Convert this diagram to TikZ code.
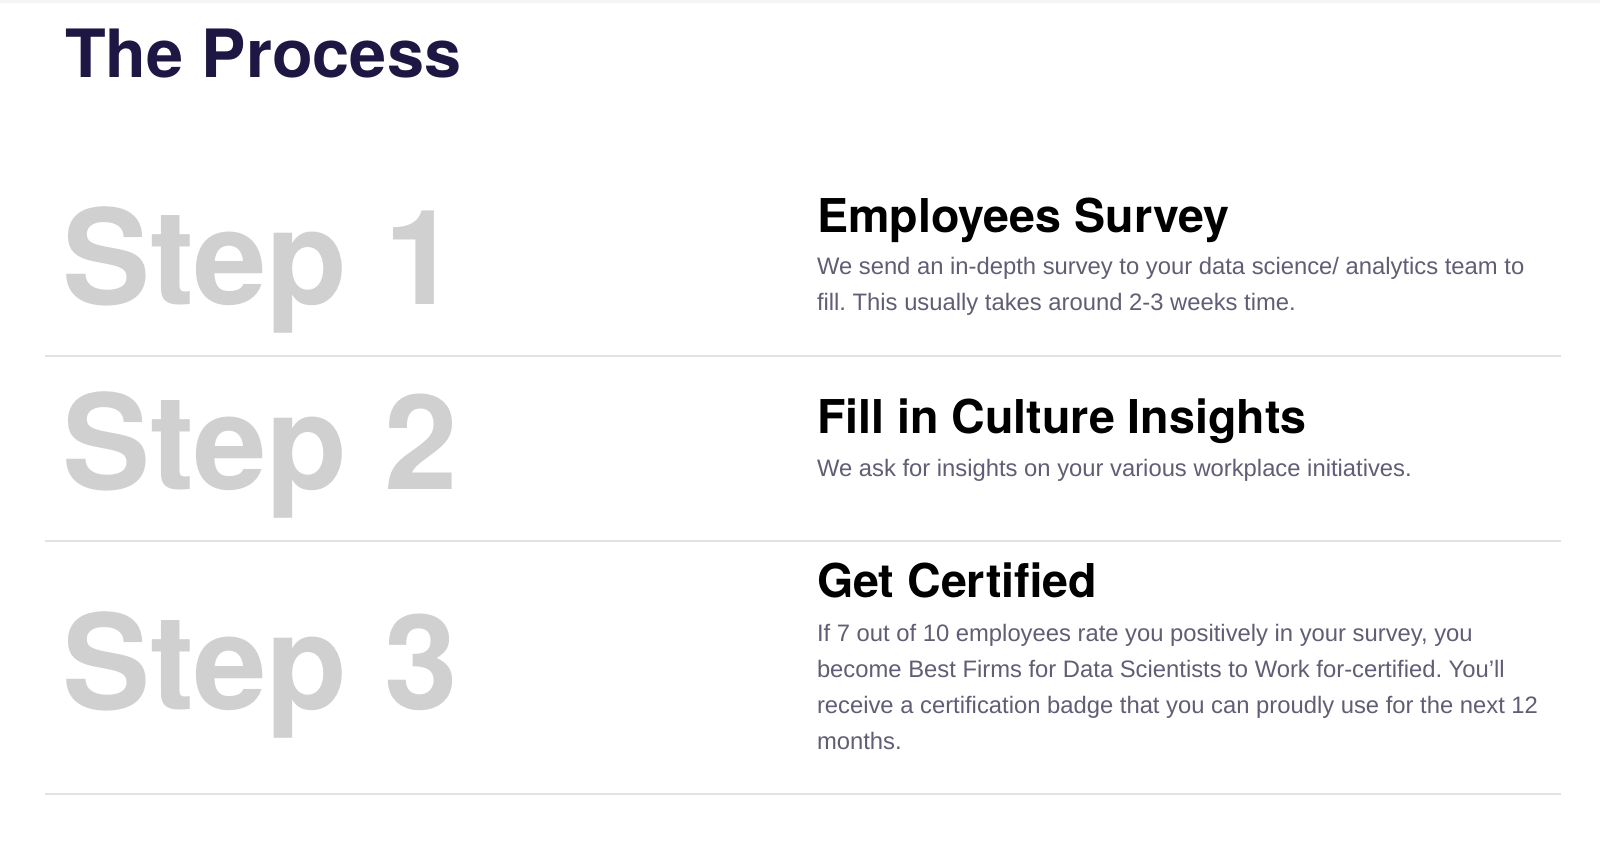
\documentclass[tikz,border=0pt]{standalone}
\usepackage{fontspec}
\newfontfamily\helv{TeX Gyre Heros}
\newfontfamily\bodyf{Liberation Sans}
\definecolor{titlecol}{HTML}{1E1743}
\definecolor{stepcol}{HTML}{D0D0D0}
\definecolor{bodycol}{HTML}{605E74}
\definecolor{rulecol}{HTML}{E2E2E2}
\frenchspacing
\begin{document}
\begin{tikzpicture}[x=0.5pt,y=-0.5pt,
  every node/.style={inner sep=0pt,outer sep=0pt,anchor=base west},
  titletext/.style={font=\helv\bfseries\fontsize{33.3}{36}\selectfont,text=titlecol},
  steptext/.style={font=\helv\bfseries\fontsize{66}{70}\selectfont,text=stepcol},
  headtext/.style={font=\helv\bfseries\fontsize{23.3}{28}\selectfont,text=black},
  bodytext/.style={font=\bodyf\fontsize{11.9}{18}\selectfont,text=bodycol},
  rulestyle/.style={draw=rulecol,line width=0.9pt}]
\useasboundingbox[fill=white] (0,0) rectangle (1600,841);
\fill[black!4] (0,0) rectangle (1600,3);
\node[titletext] (title) at (65,77) {The Process};
% rules
\coordinate (r1a) at (45,356); \coordinate (r1b) at (1561,356);
\coordinate (r2a) at (45,541); \coordinate (r2b) at (1561,541);
\coordinate (r3a) at (45,794); \coordinate (r3b) at (1561,794);
\draw[rulestyle] (r1a) -- (r1b);
\draw[rulestyle] (r2a) -- (r2b);
\draw[rulestyle] (r3a) -- (r3b);
% step 1
\node[steptext] (s1) at (62,304) {Step 1};
\node[headtext] (h1) at (817,232) {Employees Survey};
\node[bodytext] (b1a) at (817,274) {We send an in-depth survey to your data science/ analytics team to};
\node[bodytext] (b1b) at (817,310) {fill. This usually takes around 2-3 weeks time.};
% step 2
\node[steptext] (s2) at (62,489) {Step 2};
\node[headtext] (h2) at (817,433) {Fill in Culture Insights};
\node[bodytext] (b2a) at (817,476) {We ask for insights on your various workplace initiatives.};
% step 3
\node[steptext] (s3) at (62,709) {Step 3};
\node[headtext] (h3) at (817,597) {Get Certified};
\node[bodytext] (b3a) at (817,641) {If 7 out of 10 employees rate you positively in your survey, you};
\node[bodytext] (b3b) at (817,677) {become Best Firms for Data Scientists to Work for-certified. You’ll};
\node[bodytext] (b3c) at (817,713) {receive a certification badge that you can proudly use for the next 12};
\node[bodytext] (b3d) at (817,749) {months.};
\end{tikzpicture}
\end{document}
